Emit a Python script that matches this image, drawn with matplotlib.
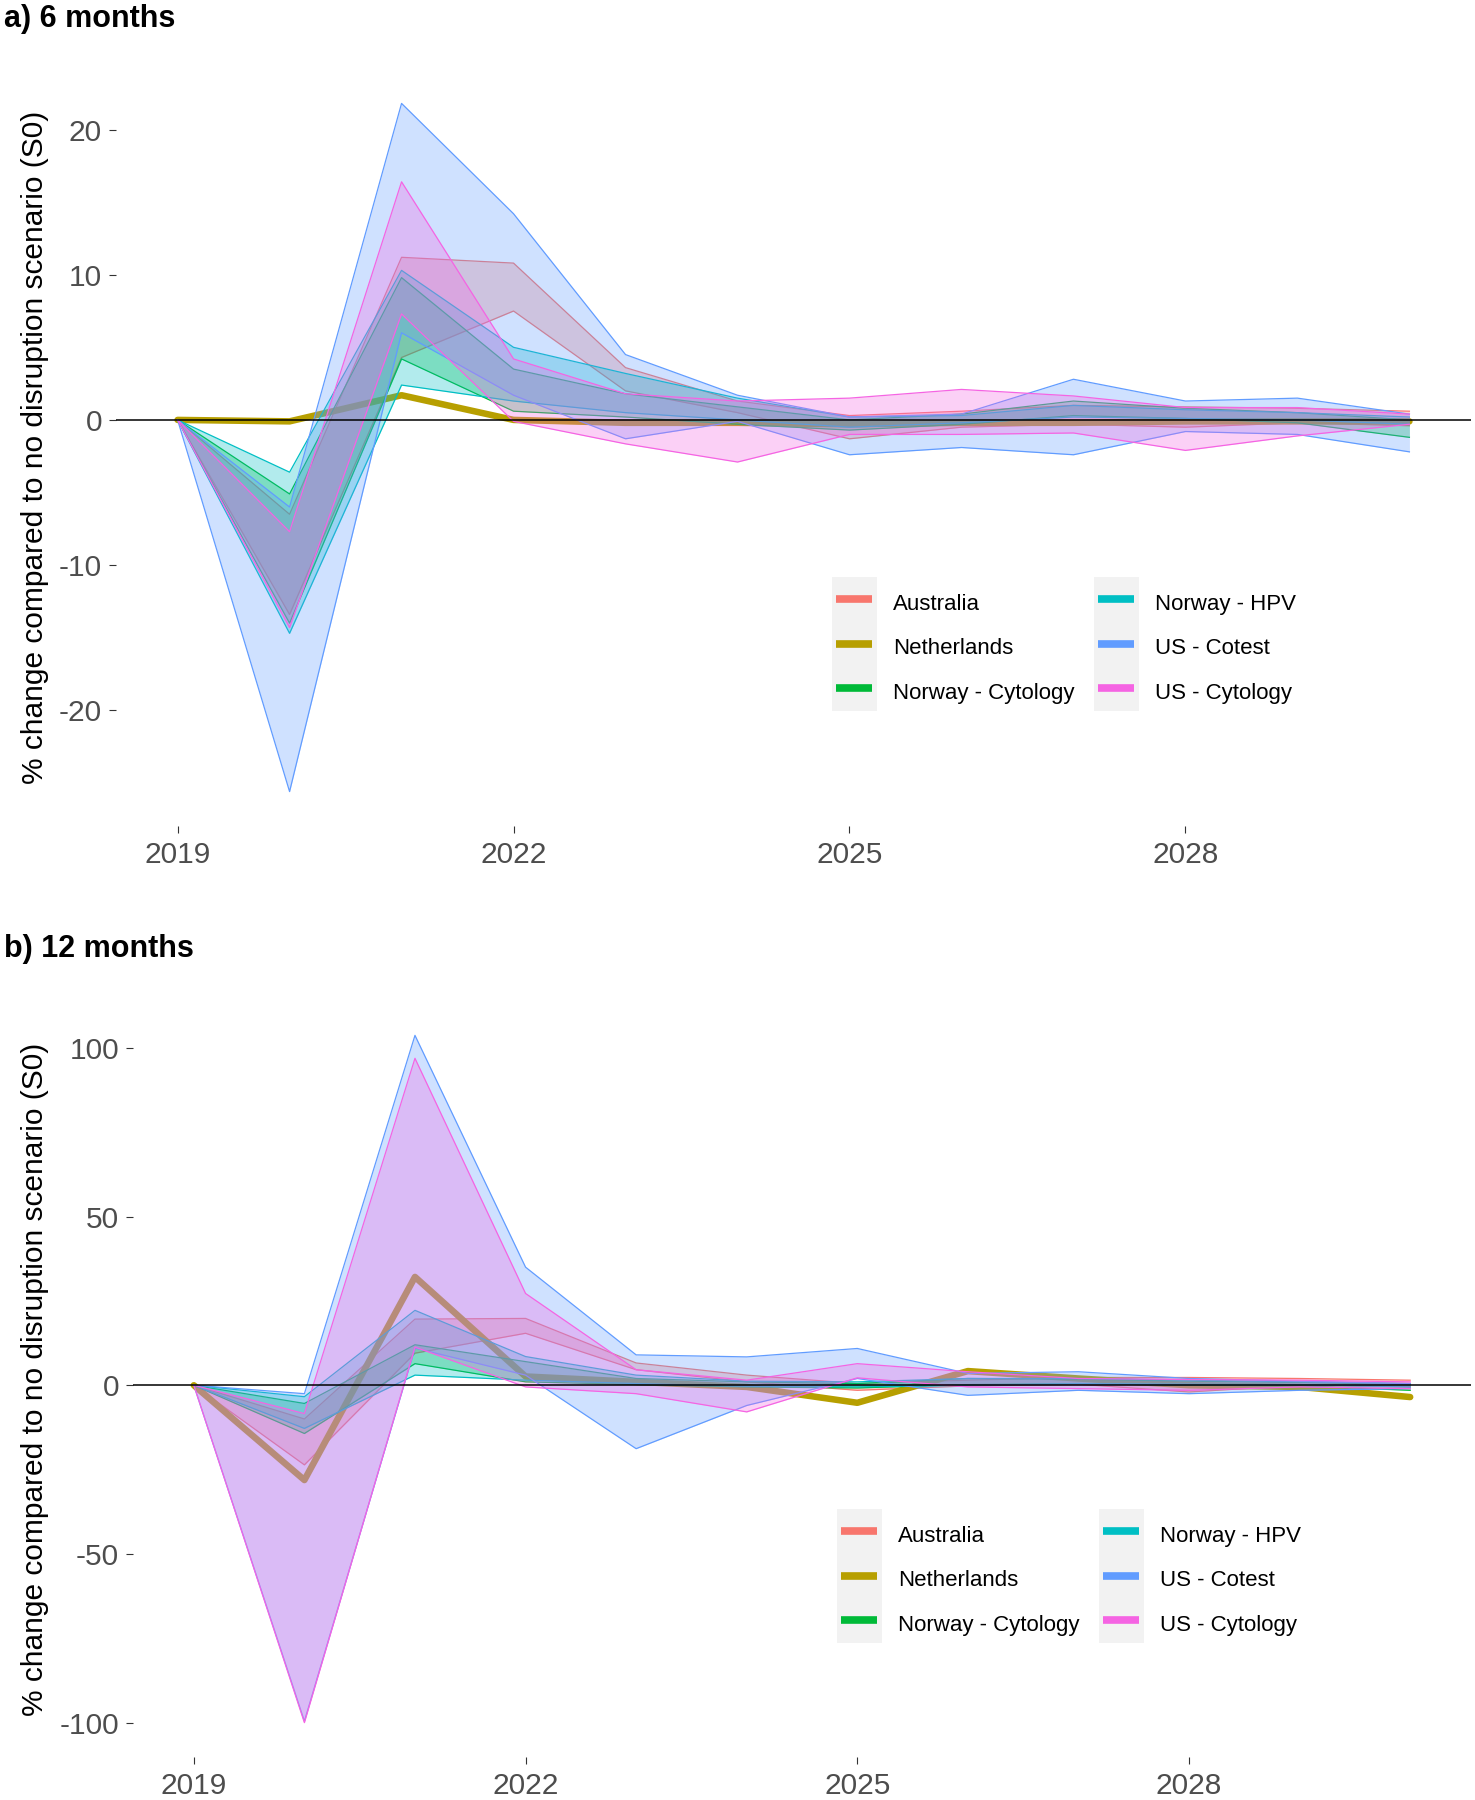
import matplotlib
matplotlib.use("Agg")
import matplotlib.pyplot as plt
from matplotlib.patches import Rectangle
from matplotlib.lines import Line2D

years = list(range(2019, 2031))
countries = ["Australia", "Netherlands", "Norway - Cytology",
             "Norway - HPV", "US - Cotest", "US - Cytology"]
colors = ["#F8766D", "#B79F00", "#00BA38", "#00BFC4", "#619CFF", "#F564E3"]

# a) 6 months disruption - range across model variants (lower / upper)
aus_6_lo = [0, -13.4, 4.3, 7.5, 2.0, 0.5, -1.3, -0.5, -0.3, -0.5, -0.2, -0.4]
aus_6_hi = [0, -6.5, 11.2, 10.8, 3.6, 1.3, 0.3, 0.6, 1.0, 0.9, 0.8, 0.6]
nl_6 = [0, -0.1, 1.7, 0.0, -0.2, -0.2, -0.3, -0.2, -0.2, -0.1, -0.1, -0.1]
nocyt_6_lo = [0, -14.0, 4.2, 0.6, 0.2, -0.3, -0.7, -0.3, 0.3, 0.1, -0.2, -1.2]
nocyt_6_hi = [0, -5.1, 9.8, 3.5, 1.8, 0.9, 0.0, 0.4, 1.3, 0.8, 0.5, 0.0]
nohpv_6_lo = [0, -14.7, 2.4, 1.3, 0.5, 0.0, -0.5, -0.2, 0.2, 0.1, 0.0, -0.3]
nohpv_6_hi = [0, -3.6, 10.3, 5.0, 3.2, 1.5, 0.2, 0.3, 1.0, 0.7, 0.5, 0.2]
uscot_6_lo = [0, -25.6, 6.0, 1.7, -1.3, -0.1, -2.4, -1.9, -2.4, -0.8, -1.0, -2.2]
uscot_6_hi = [0, -6.0, 21.8, 14.2, 4.5, 1.7, 0.2, 0.4, 2.8, 1.3, 1.5, 0.4]
uscyt_6_lo = [0, -14.3, 7.3, -0.1, -1.65, -2.9, -1.0, -1.0, -0.9, -2.1, -1.1, -0.3]
uscyt_6_hi = [0, -7.7, 16.4, 4.2, 1.8, 1.3, 1.5, 2.1, 1.65, 0.85, 0.85, 0.4]

# b) 12 months disruption
aus_12_lo = [0, -23.6, 9.5, 15.4, 4.6, 1.0, -1.5, -0.2, 0.3, -2.0, 0.0, -0.5]
aus_12_hi = [0, -10.0, 19.6, 19.8, 6.6, 3.0, 0.5, 1.5, 2.3, 2.3, 2.0, 1.5]
nl_12 = [0, -28.1, 32.1, 2.6, 1.0, -0.5, -5.2, 4.2, 2.0, 0.0, -0.5, -3.5]
nocyt_12_lo = [0, -14.3, 6.4, 1.0, 0.2, -0.5, -0.8, 0.2, 0.5, 0.0, -0.2, -1.5]
nocyt_12_hi = [0, -5.4, 12.0, 7.0, 2.0, 1.0, 0.5, 2.0, 1.8, 1.2, 0.8, 0.2]
nohpv_12_lo = [0, -12.8, 3.0, 1.5, 0.5, -0.3, -0.5, 0.0, 0.5, 0.3, 0.2, -0.5]
nohpv_12_hi = [0, -3.4, 22.2, 8.5, 3.0, 1.2, 1.0, 2.0, 2.0, 1.5, 1.0, 0.5]
uscot_12_lo = [0, -99.6, 11.0, 3.0, -18.8, -6.0, 2.0, -3.0, -1.5, -2.5, -1.5, -1.0]
uscot_12_hi = [0, -2.5, 103.7, 35.0, 9.0, 8.4, 10.9, 3.5, 4.0, 2.0, 1.2, 0.5]
uscyt_12_lo = [0, -100.0, 11.3, -0.5, -2.5, -7.9, 2.2, -0.5, -1.0, -1.5, -0.5, -1.0]
uscyt_12_hi = [0, -8.4, 96.9, 27.2, 4.6, 1.5, 6.4, 4.0, 2.0, 1.7, 1.5, 1.0]

yticks_6 = [-20, -10, 0, 10, 20]
yticks_12 = [-100, -50, 0, 50, 100]
xticks = [2019, 2022, 2025, 2028]
ylab = "% change compared to no disruption scenario (S0)"

plt.rcParams["font.family"] = ["Liberation Sans", "DejaVu Sans"]
plt.rcParams["axes.unicode_minus"] = False

W, H = 1475, 1800
fig = plt.figure(figsize=(W / 100, H / 100), dpi=100)


def px_box(left, top, right, bottom):
    return [left / W, 1 - bottom / H, (right - left) / W, (bottom - top) / H]


def draw_panel(ax, ranges, nl, yticks):
    vals = [0]
    for i, (name, col) in enumerate(zip(countries, colors)):
        z = i + 1  # each group drawn on top of the previous ones, like ggplot
        if name == "Netherlands":
            ax.plot(years, nl, color=col, lw=4.7, solid_capstyle="round",
                    solid_joinstyle="round", zorder=z)
            vals += nl
            continue
        lo, hi = ranges[name]
        ax.fill_between(years, lo, hi, color=col, alpha=0.3, lw=0, zorder=z)
        ax.plot(years, lo, color=col, lw=0.9, zorder=z)
        ax.plot(years, hi, color=col, lw=0.9, zorder=z)
        vals += lo + hi
    ax.axhline(0, color="black", lw=1.1, zorder=10)

    # ggplot-like 5% expansion of the scales
    ymin, ymax = min(vals), max(vals)
    ax.set_ylim(ymin - 0.05 * (ymax - ymin), ymax + 0.05 * (ymax - ymin))
    span = years[-1] - years[0]
    ax.set_xlim(years[0] - 0.05 * span, years[-1] + 0.05 * span)
    ax.set_xticks(xticks)
    ax.set_yticks(yticks)
    for s in ax.spines.values():
        s.set_visible(False)
    ax.tick_params(length=5, width=0.8, color="#333333", labelsize=21.5,
                   labelcolor="#4D4D4D")
    ax.tick_params(axis="x", pad=6)
    ax.tick_params(axis="y", pad=5)


def draw_legend(x0, y0):
    row_h = 44.5
    for i, (name, col) in enumerate(zip(countries, colors)):
        c, r = divmod(i, 3)
        sx = x0 + c * 262
        if r == 0:
            fig.add_artist(Rectangle((sx / W, 1 - (y0 + 3 * row_h) / H), 45 / W,
                                     3 * row_h / H, transform=fig.transFigure,
                                     facecolor="#F2F2F2", edgecolor="none"))
        yc = y0 + row_h * (r + 0.5)
        fig.add_artist(Line2D([(sx + 4) / W, (sx + 40) / W], [1 - yc / H] * 2,
                              color=col, lw=5.5, solid_capstyle="butt",
                              transform=fig.transFigure))
        fig.text((sx + 61) / W, 1 - (yc + 5) / H, name, fontsize=16,
                 va="center", ha="left")


ranges_6 = {"Australia": (aus_6_lo, aus_6_hi),
            "Norway - Cytology": (nocyt_6_lo, nocyt_6_hi),
            "Norway - HPV": (nohpv_6_lo, nohpv_6_hi),
            "US - Cotest": (uscot_6_lo, uscot_6_hi),
            "US - Cytology": (uscyt_6_lo, uscyt_6_hi)}
ranges_12 = {"Australia": (aus_12_lo, aus_12_hi),
             "Norway - Cytology": (nocyt_12_lo, nocyt_12_hi),
             "Norway - HPV": (nohpv_12_lo, nohpv_12_hi),
             "US - Cotest": (uscot_12_lo, uscot_12_hi),
             "US - Cytology": (uscyt_12_lo, uscyt_12_hi)}

ax_a = fig.add_axes(px_box(116, 69, 1471, 826))
draw_panel(ax_a, ranges_6, nl_6, yticks_6)
ax_b = fig.add_axes(px_box(133, 1001, 1471, 1757))
draw_panel(ax_b, ranges_12, nl_12, yticks_12)

fig.text(4 / W, 1 - 27 / H, "a) 6 months", fontsize=22, fontweight="bold", va="baseline")
fig.text(4 / W, 1 - 957 / H, "b) 12 months", fontsize=22, fontweight="bold", va="baseline")
fig.text(35 / W, 1 - 447 / H, ylab, rotation=90, ha="center", va="center", fontsize=21.5)
fig.text(35 / W, 1 - 1379 / H, ylab, rotation=90, ha="center", va="center", fontsize=21.5)

draw_legend(832, 577)
draw_legend(837, 1509)

fig.savefig("out.png", dpi=100, facecolor="white")
